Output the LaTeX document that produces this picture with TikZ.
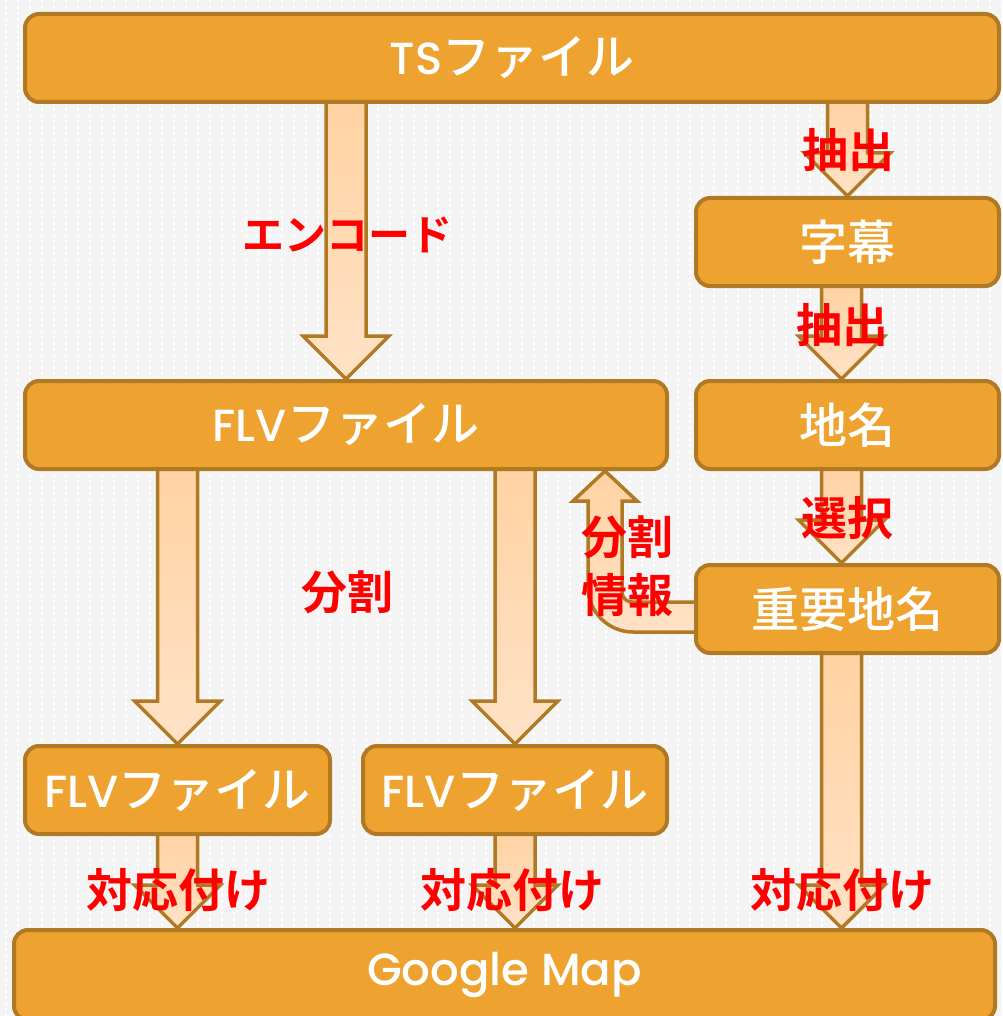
\documentclass[tikz,border=0pt]{standalone}
\usepackage{fontspec}
\setmainfont{Noto Sans CJK JP}[BoldFont={Noto Sans CJK JP Bold}]
\newfontfamily\boxjp{Noto Sans CJK JP Medium}
\newfontfamily\latinfont{Poppins Medium}
\newcommand{\latin}{\fontsize{45}{50}\selectfont\latinfont}
\usepackage{tikz}
\usetikzlibrary{calc,positioning}
\definecolor{paper}{HTML}{F4F4F4}
\definecolor{boxfill}{HTML}{EEA330}
\definecolor{boxline}{HTML}{B07A25}
\definecolor{flowtop}{HTML}{FFD2A2}
\definecolor{flowbottom}{HTML}{FFE2C6}
\definecolor{notered}{HTML}{FF0000}
\pgfdeclarelayer{back}
\pgfsetlayers{back,main}
\tikzset{
flowchart/.style={x=1pt,y=-1pt,line join=miter},
box/.style={draw=boxline,line width=4pt,fill=boxfill,rounded corners=14pt,
text=white,font=\fontsize{48}{50}\selectfont\boxjp,minimum height=88pt,inner sep=0pt},
flow/.style={draw=boxline,line width=3.5pt,top color=flowtop,bottom color=flowbottom},
note/.style={text=notered,font=\fontsize{46}{58}\selectfont\bfseries,align=center,inner sep=0pt},
}
\newcommand{\blockarrow}[2]{%
\filldraw[flow] let \p1=#1, \p2=#2 in
({\x1-20pt},\y1) -- ({\x1+20pt},\y1) -- ({\x1+20pt},{\y2+43pt}) -- ({\x1+43pt},{\y2+43pt})
-- (\x2,\y2) -- ({\x1-43pt},{\y2+43pt}) -- ({\x1-20pt},{\y2+43pt}) -- cycle;}
\newcommand{\returnarrow}[2]{%
\filldraw[flow] let \p1=#2, \p2=#1 in
(\x2,{\y2+15pt}) -- ({\x1+27pt},{\y2+15pt})
.. controls ({\x1+21.5pt},{\y2+15pt}) and ({\x1+17pt},{\y2+19.5pt}) .. ({\x1+17pt},{\y2+25pt})
-- ({\x1+17pt},{\y1-30pt}) -- ({\x1+32pt},{\y1-30pt}) -- (\x1,\y1)
-- ({\x1-32pt},{\y1-30pt}) -- ({\x1-17pt},{\y1-30pt}) -- ({\x1-17pt},{\y2+30pt})
.. controls ({\x1-17pt},{\y2+5.2pt}) and ({\x1+3.2pt},{\y2-15pt}) .. ({\x1+28pt},{\y2-15pt})
-- (\x2,{\y2-15pt}) -- cycle;}
\begin{document}
\begin{tikzpicture}[flowchart]
\useasboundingbox (0,0) rectangle (1002,1016);
\clip (0,0) rectangle (1002,1016);

\path
  node[box,minimum width=974pt] (ts) at (512,58) {{\latin TS}ファイル}
  node[box,minimum width=303pt] (jimaku) at (847.5,242) {字幕}
  node[box,minimum width=642pt] (flv) at (346,425) {{\latin FLV}ファイル}
  node[box,minimum width=303pt] (chimei) at (847.5,425) {地名}
  node[box,minimum width=303pt] (juyo) at (847.5,609) {重要地名}
  node[box,minimum width=305pt] (flva) at (177.5,790) {{\latin FLV}ファイル}
  node[box,minimum width=304pt] (flvb) at (515,790) {{\latin FLV}ファイル}
  node[box,minimum width=981pt,minimum height=90pt] (gmap) at (504.5,975) {\latin Google Map};

\begin{pgfonlayer}{back}
\fill[paper] (0,0) rectangle (1002,1016);
\foreach \x in {6,18,...,1002}
  \draw[white,line width=1.5pt,dash pattern=on 3pt off 3pt] (\x,0) -- (\x,1016);
\blockarrow{([yshift=4pt]ts.south -| flv.north)}{(flv.north)}
\blockarrow{([yshift=4pt]ts.south -| jimaku.north)}{(jimaku.north)}
\blockarrow{([xshift=-6pt,yshift=4pt]jimaku.south)}{([xshift=-6pt]chimei.north)}
\blockarrow{([xshift=-6pt,yshift=4pt]chimei.south)}{([xshift=-6pt]juyo.north)}
\blockarrow{([xshift=-6pt,yshift=4pt]juyo.south)}{([xshift=-6pt]juyo.south |- gmap.north)}
\blockarrow{([yshift=4pt]flv.south -| flva.north)}{(flva.north)}
\blockarrow{([yshift=4pt]flv.south -| flvb.north)}{(flvb.north)}
\blockarrow{([yshift=4pt]flva.south)}{(flva.south |- gmap.north)}
\blockarrow{([yshift=4pt]flvb.south)}{(flvb.south |- gmap.north)}
\returnarrow{([xshift=4pt,yshift=-8pt]juyo.west)}{([xshift=-64pt]flv.south east)}
\end{pgfonlayer}

\node[note,font=\fontsize{42}{58}\selectfont\bfseries] (encode) at (347,235) {エンコード};
\node[note] (extract1) at (848,150) {抽出};
\node[note] (extract2) at (842,325) {抽出};
\node[note] (select) at (847,518) {選択};
\node[note] (split) at (347,592) {分割};
\node[note] (splitinfo) at (627,566) {分割\\情報};
\node[note] (match1) at (178,890) {対応付け};
\node[note] (match2) at (512,890) {対応付け};
\node[note] (match3) at (842,890) {対応付け};
\end{tikzpicture}
\end{document}
